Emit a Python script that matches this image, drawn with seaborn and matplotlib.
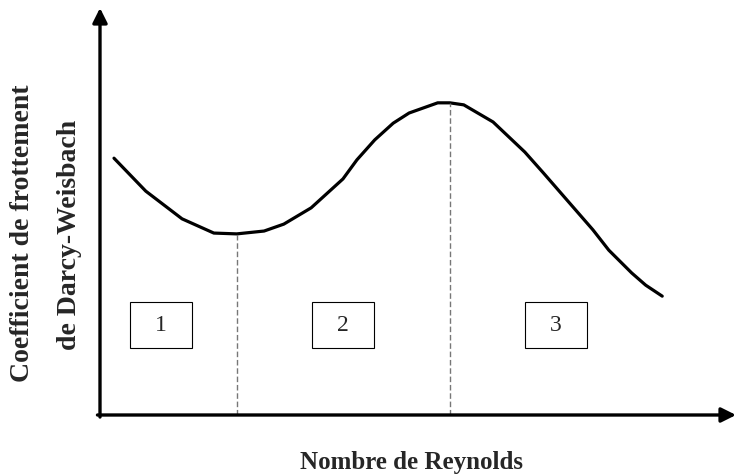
import numpy as np
import pandas as pd
import seaborn as sns
import matplotlib.pyplot as plt
from matplotlib.patches import Rectangle

# friction coefficient curve (arbitrary units)
reynolds = [2.2, 7.2, 12.9, 17.9, 21.5, 25.8, 28.9, 33.2, 38.2, 40.4, 43.2, 46.1,
            48.6, 53.1, 55.0, 57.2, 61.8, 66.8, 69.7, 74.1, 77.5, 80.0, 83.6, 85.8, 88.4]
friction = [63.1, 55.0, 48.2, 44.7, 44.5, 45.2, 46.9, 50.9, 58.0, 62.7, 67.6, 71.7,
            74.2, 76.7, 76.7, 76.2, 72.0, 64.6, 59.5, 51.6, 45.5, 40.5, 34.9, 31.9, 29.2]

# zone limits (minimum and maximum of the curve)
limit_x = [21.5, 55.0]
limit_y = [44.5, 76.7]

zone_labels = ['1', '2', '3']
zone_x = [9.6, 38.2, 71.7]
zone_y = 22.1

df = pd.DataFrame({'Re': reynolds, 'f': friction})

sns.set_style('white')
plt.rcParams['font.family'] = ['Liberation Serif', 'DejaVu Serif']

fig = plt.figure(figsize=(7.36, 4.74), dpi=100)
ax = fig.add_axes([100 / 736, 59 / 474, 636 / 736, 407 / 474])

sns.lineplot(data=df, x='Re', y='f', color='black', linewidth=2.3, ax=ax, sort=False)
ax.vlines(limit_x, 0, limit_y, colors='#777777', linestyles=(0, (4, 2)), linewidth=1)

bw, bh = 9.75, 11.5
for lab, zx in zip(zone_labels, zone_x):
    ax.add_patch(Rectangle((zx - bw / 2, zone_y - bh / 2), bw, bh,
                           fill=False, edgecolor='black', linewidth=0.8))
    ax.text(zx, zone_y, lab, ha='center', va='center', fontsize=17)

ax.set_xlim(0, 100)
ax.set_ylim(0, 100)
ax.set_xticks([])
ax.set_yticks([])
ax.set_xlabel('')
ax.set_ylabel('')
sns.despine(ax=ax, left=True, bottom=True)

# axis arrows
arrow = dict(arrowstyle='-|>', color='black', lw=2.4, mutation_scale=22, shrinkA=0, shrinkB=0)
ax.annotate('', xy=(0, 1), xytext=(0, -0.005), xycoords='axes fraction', arrowprops=arrow, annotation_clip=False)
ax.annotate('', xy=(1, 0), xytext=(-0.004, 0), xycoords='axes fraction', arrowprops=arrow, annotation_clip=False)

fig.text(411 / 736, 1 - 462 / 474, 'Nombre de Reynolds', ha='center', va='center',
         fontsize=18, fontweight='bold')
fig.text(23 / 736, 1 - 233 / 474, 'Coefficient de frottement', ha='center', va='center',
         rotation=90, fontsize=20, fontweight='bold')
fig.text(69 / 736, 1 - 235 / 474, 'de Darcy-Weisbach', ha='center', va='center',
         rotation=90, fontsize=20, fontweight='bold')

plt.savefig('out.png', dpi=100)
